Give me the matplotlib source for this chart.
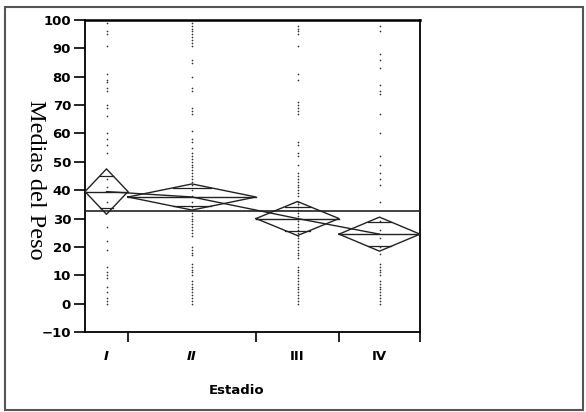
import matplotlib.pyplot as plt
import numpy as np
from matplotlib.patches import Rectangle

# groups (x widths are proportional to group size, JMP style)
estadios = ["I", "II", "III", "IV"]
group_n = [43, 128, 83, 81]

# means diamonds: group mean and 95% CI
means = [39.5, 37.6, 30.0, 24.5]
ci_low = [31.5, 33.0, 24.0, 18.5]
ci_high = [47.5, 42.2, 36.0, 30.5]
grand_mean = 32.7

# raw points per group
pts_i = [99, 96, 95, 91, 81, 79, 78, 76, 75, 70, 69, 66, 60, 58, 56, 53,
         44, 41, 36, 27, 22, 19, 13, 11, 10, 9, 6, 4, 2, 1, 0]
pts_ii = [99, 98, 97, 96, 95, 94, 93, 92, 91, 86, 85, 80, 76, 75, 69, 68, 67,
          61, 58, 57, 55, 53, 52, 51, 50, 49, 48, 47, 46, 45, 44, 43, 42,
          40, 38, 36, 34, 32, 31, 30, 29, 28, 27, 26, 25, 24, 20, 19, 18, 17,
          14, 13, 12, 11, 10, 8, 7, 6, 5, 4, 3, 2, 1, 0]
pts_iii = [98, 97, 96, 95, 91, 81, 79, 71, 70, 69, 68, 67, 57, 56, 53, 52, 49,
           46, 45, 44, 43, 42, 41, 40, 39, 38, 36, 35, 34, 33, 32, 31, 30, 29,
           28, 27, 26, 25, 24, 23, 22, 21, 20, 19, 18, 17, 16, 13, 12, 11, 10,
           9, 8, 7, 6, 5, 4, 3, 2, 1, 0]
pts_iv = [98, 96, 88, 86, 83, 77, 75, 74, 67, 60, 52, 49, 46, 44, 42, 36,
          29, 26, 23, 20, 17.5, 14, 13, 12, 11, 10, 8, 7, 6, 5, 4, 3, 2, 1, 0]
points = [pts_i, pts_ii, pts_iii, pts_iv]

fig = plt.figure(figsize=(5.86, 4.12), dpi=100)
ax = fig.add_axes([85 / 586, 1 - 332 / 412, 335 / 586, 312 / 412])

edges = np.concatenate([[0], np.cumsum(group_n)])
centers = (edges[:-1] + edges[1:]) / 2
lc = "#222222"

for i in range(len(estadios)):
    x0, x1, xc = edges[i], edges[i + 1], centers[i]
    m, lo, hi = means[i], ci_low[i], ci_high[i]
    ax.scatter(np.full(len(points[i]), xc), points[i], s=1.5, c="#333333",
               linewidths=0, zorder=2)
    ax.plot([x0, xc, x1, xc, x0], [m, hi, m, lo, m], color=lc, lw=1.0, zorder=3)
    ax.plot([x0, x1], [m, m], color=lc, lw=1.0, zorder=3)
    # overlap marks
    half = (hi - lo) / 2
    off = half / np.sqrt(2)
    frac = 1 - off / half
    hw = (x1 - x0) / 2 * frac
    for y in (m + off, m - off):
        ax.plot([xc - hw, xc + hw], [y, y], color=lc, lw=0.9, zorder=3)

ax.plot(centers, means, color=lc, lw=1.0, zorder=3)
ax.axhline(grand_mean, color=lc, lw=1.2, zorder=3)

ax.set_xlim(0, edges[-1])
ax.set_ylim(-10, 100)
ax.set_yticks(np.arange(-10, 101, 10))
ax.set_xticks(edges[1:])
ax.set_xticklabels([])
ax.set_xticks(centers, minor=True)
ax.tick_params(axis="y", direction="out", length=8, width=1.2, pad=2,
               labelsize=9.5)
ax.tick_params(axis="x", which="major", direction="out", length=7, width=1.2)
ax.tick_params(axis="x", which="minor", length=0, pad=13)
ax.set_xticklabels(estadios, minor=True)
for lab, style in zip(ax.get_xticklabels(minor=True),
                      ["italic", "italic", "normal", "normal"]):
    lab.set_fontstyle(style)
    lab.set_fontweight("bold")
    lab.set_fontsize(9.5)
for lab in ax.get_yticklabels():
    lab.set_fontweight("bold")

for side in ["left", "bottom", "right"]:
    ax.spines[side].set_linewidth(1.3)
ax.spines["top"].set_linewidth(1.8)

fig.text(35 / 586, 1 - 180 / 412, "Medias del Peso", rotation=270,
         ha="center", va="center", fontsize=17.5, family="Liberation Serif")
fig.text(237 / 586, 1 - 391 / 412, "Estadio", ha="center", va="center",
         fontsize=9.5, fontweight="bold")

fig.patches.append(Rectangle((5 / 586, 2 / 412), 578 / 586, 403 / 412,
                             transform=fig.transFigure, fill=False,
                             edgecolor="#555555", lw=1.5))

fig.savefig("out.png", dpi=100)
